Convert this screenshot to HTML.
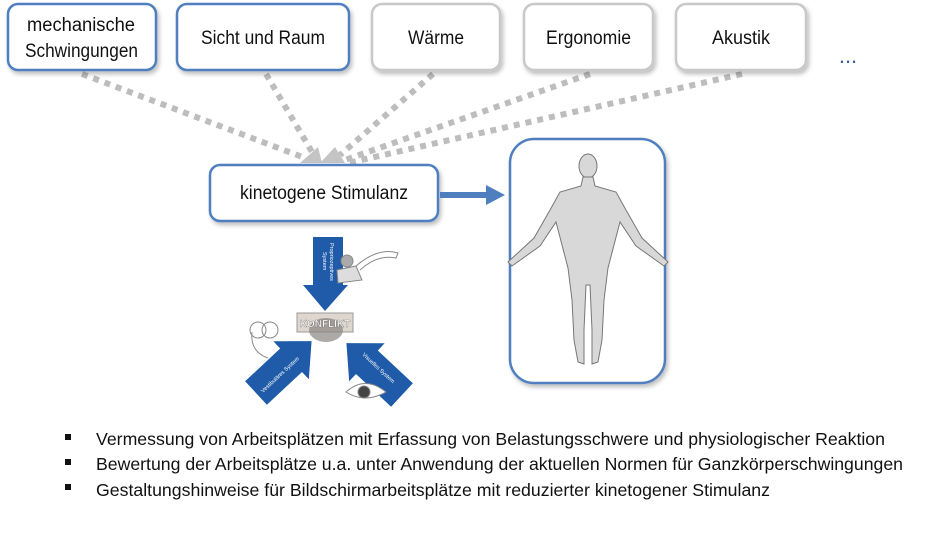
<!DOCTYPE html>
<html><head><meta charset="utf-8"><style>
body{margin:0;background:#fff;}
svg{display:block;font-family:"Liberation Sans",sans-serif;}
</style></head><body>
<svg width="940" height="534" viewBox="0 0 940 534" xmlns="http://www.w3.org/2000/svg">
<defs>
<filter id="sh" x="-10%" y="-10%" width="130%" height="140%"><feDropShadow dx="2" dy="3" stdDeviation="2" flood-color="#000" flood-opacity="0.25"/></filter>
</defs>
<g stroke="#bdbdbd" stroke-width="6" stroke-dasharray="6 6" fill="none">
<line x1="82" y1="74" x2="305" y2="158"/>
<line x1="266" y1="74" x2="312" y2="152"/>
<line x1="433" y1="74" x2="340" y2="155"/>
<line x1="590" y1="74" x2="345" y2="160"/>
<line x1="742" y1="74" x2="348" y2="163"/>
</g>
<polygon points="300,163 322,163 318,147" fill="#c4c4c4"/>
<polygon points="320,163 345,163 335,147" fill="#c4c4c4"/>
<g filter="url(#sh)" stroke-width="2.5" fill="#fff">
<rect x="8" y="4" width="148" height="66" rx="10" stroke="#4f7fbf"/>
<rect x="177" y="4" width="172" height="66" rx="10" stroke="#4f7fbf"/>
<rect x="372" y="4" width="128" height="66" rx="10" stroke="#c8c8c8"/>
<rect x="524" y="4" width="129" height="66" rx="10" stroke="#c8c8c8"/>
<rect x="676" y="4" width="130" height="66" rx="10" stroke="#c8c8c8"/>
<rect x="210" y="165" width="228" height="56" rx="10" stroke="#4f7fbf"/>
<rect x="510" y="139" width="155" height="244" rx="24" stroke="#4f7fbf"/>
</g>
<g font-size="19" fill="#111">
<text x="27" y="31" textLength="108" lengthAdjust="spacingAndGlyphs">mechanische</text>
<text x="25" y="57" textLength="113" lengthAdjust="spacingAndGlyphs">Schwingungen</text>
<text x="201" y="44" textLength="124" lengthAdjust="spacingAndGlyphs">Sicht und Raum</text>
<text x="408" y="44" textLength="56" lengthAdjust="spacingAndGlyphs">Wärme</text>
<text x="546" y="44" textLength="85" lengthAdjust="spacingAndGlyphs">Ergonomie</text>
<text x="712" y="44" textLength="58" lengthAdjust="spacingAndGlyphs">Akustik</text>
<text x="240" y="199" textLength="168" lengthAdjust="spacingAndGlyphs">kinetogene Stimulanz</text>
</g>
<text x="848" y="63" font-size="22" fill="#2f5f9f" text-anchor="middle">...</text>
<line x1="440" y1="195" x2="488" y2="195" stroke="#4f7fbf" stroke-width="6"/>
<polygon points="486,185 505,195 486,205" fill="#4f7fbf"/>
<g fill="#d8d8d8" stroke="#777" stroke-width="1">
<ellipse cx="588" cy="166" rx="9" ry="12"/>
<path d="M583,177 L593,177 L595,186 L616,192 L626,210 L642,238 L668,262 L664,266 L636,246 L620,222 L614,245 L608,268 L604,300 L602,340 L598,362 L592,364 L592,330 L590,285 L586,285 L584,330 L584,364 L578,362 L574,340 L572,300 L568,268 L562,245 L556,222 L540,246 L512,266 L508,262 L534,238 L550,210 L560,192 L581,186 Z"/>
</g>
<polygon points="313,237 343,237 343,285 348,285 325,311 303,285 313,285" fill="#1f5ba8"/>
<g fill="#1f5ba8">
<polygon points="0,-16 48,-16 48,-26 76,0 48,26 48,16 0,16" transform="translate(256,393) rotate(-43)"/>
<polygon points="0,-16 48,-16 48,-26 76,0 48,26 48,16 0,16" transform="translate(402,395) rotate(-137)"/>
</g>
<rect x="297" y="313" width="56" height="19" fill="#ded6cf" stroke="#999"/>
<ellipse cx="326" cy="330" rx="17" ry="12" fill="#8a8580" opacity="0.7"/>
<text x="325" y="327" font-size="10" font-weight="bold" fill="#fff" stroke="#555" stroke-width="0.3" text-anchor="middle">KONFLIKT</text>
<g font-size="5.5" fill="#fff">
<text transform="translate(330,243) rotate(90)">Propriozeptives</text>
<text transform="translate(323,252) rotate(90)">System</text>
<text transform="translate(263,393) rotate(-43)">Vestibuläres System</text>
<text transform="translate(362,355) rotate(43)">Visuelles System</text>
</g>
<g fill="#ddd" stroke="#888" stroke-width="1">
<circle cx="347" cy="261" r="6" fill="#aaa"/>
<path d="M337,270 L356,266 L362,280 L338,283 Z"/>
<path d="M356,266 Q378,247 398,253 L396,258 Q378,254 360,270" fill="none"/>
<circle cx="258" cy="330" r="8" fill="none"/>
<circle cx="270" cy="330" r="8" fill="none"/>
<path d="M252,332 Q250,352 268,358" fill="none"/>
<path d="M346,392 Q365,375 386,392 Q365,404 346,392 Z" fill="#fff"/>
<circle cx="364" cy="392" r="6" fill="#444"/>
</g>
<g font-size="17.5" fill="#111">
<rect x="65" y="434" width="6" height="6" fill="#111"/>
<rect x="65" y="459" width="6" height="6" fill="#111"/>
<rect x="65" y="484" width="6" height="6" fill="#111"/>
<text x="96" y="445" textLength="789" lengthAdjust="spacingAndGlyphs">Vermessung von Arbeitsplätzen mit Erfassung von Belastungsschwere und physiologischer Reaktion</text>
<text x="96" y="470" textLength="807" lengthAdjust="spacingAndGlyphs">Bewertung der Arbeitsplätze u.a. unter Anwendung der aktuellen Normen für Ganzkörperschwingungen</text>
<text x="96" y="496" textLength="674" lengthAdjust="spacingAndGlyphs">Gestaltungshinweise für Bildschirmarbeitsplätze mit reduzierter kinetogener Stimulanz</text>
</g>
</svg>
</body></html>
